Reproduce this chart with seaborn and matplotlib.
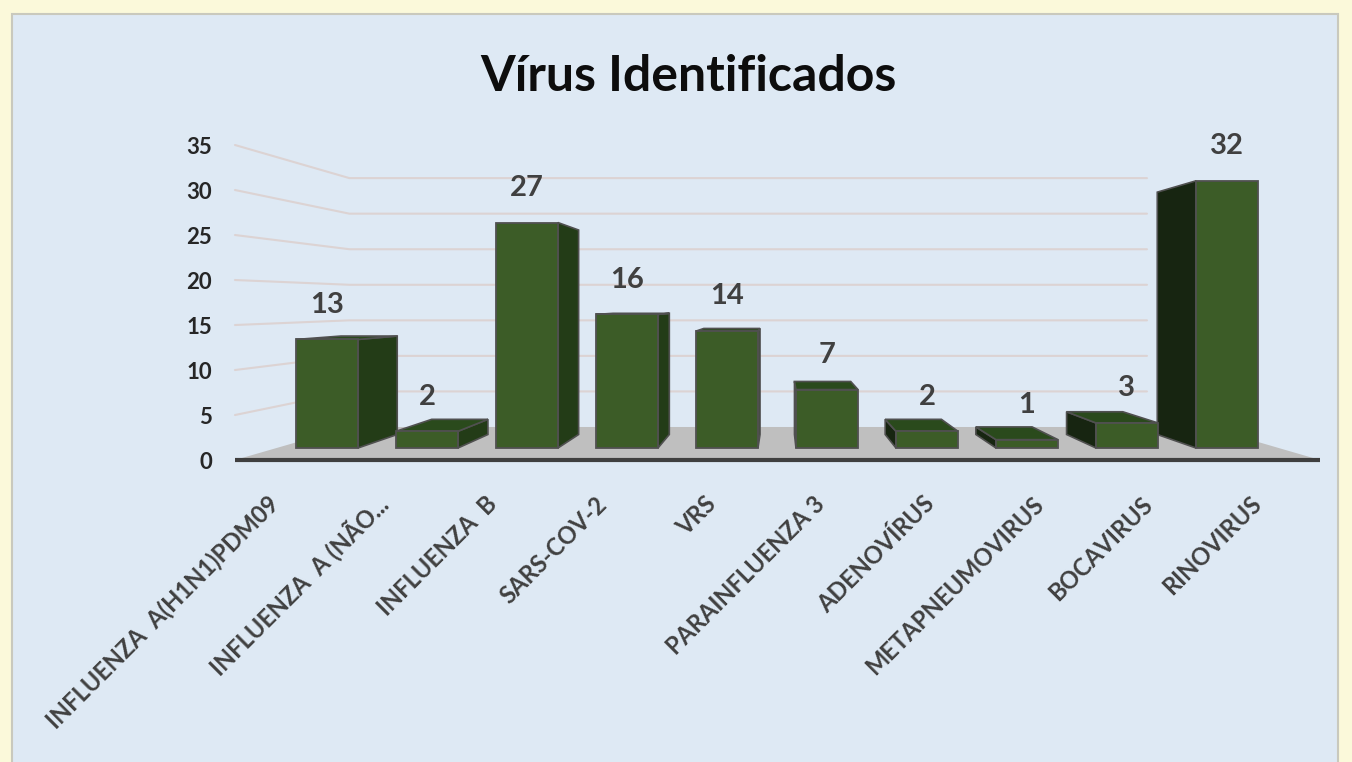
import pandas as pd
import seaborn as sns
import matplotlib.pyplot as plt
from matplotlib.patches import Polygon, Rectangle

# data
virus = ["INFLUENZA  A(H1N1)PDM09", "INFLUENZA  A (NÃO...", "INFLUENZA  B", "SARS-COV-2", "VRS",
         "PARAINFLUENZA 3", "ADENOVÍRUS", "METAPNEUMOVIRUS", "BOCAVIRUS", "RINOVIRUS"]
casos = [13, 2, 27, 16, 14, 7, 2, 1, 3, 32]
y_ticks = [0, 5, 10, 15, 20, 25, 30, 35]

df = pd.DataFrame({"virus": virus, "casos": casos})

sns.set_style("white")
plt.rcParams["font.family"] = ["Lato", "DejaVu Sans"]

fig = plt.figure(figsize=(13.52, 7.62), dpi=100)
fig.patch.set_facecolor("#fbf9da")
fig.patches.append(Rectangle((12 / 1352, -0.01), 1326 / 1352, 0.9916, transform=fig.transFigure,
                             facecolor="#dee9f4", edgecolor="#c9c9bd", linewidth=1.5, zorder=-5))

ax = fig.add_axes([0.1738, 0.3963, 0.8025, 0.4134])
ax.set_facecolor("none")

# 3d look: everything recedes towards a vanishing point
vp = (4.53, 17.4)
k_bar = 0.093      # depth of the bars
k_floor = 0.21     # depth of the floor
front = 1.078      # front plane (ticks) is a bit bigger than the bar plane
label_front = 1.092
x_left, x_right, y_floor = -0.92, 9.93, -1.44


def back(x, y, k):
    return (x + k * (vp[0] - x), y + k * (vp[1] - y))


tick_pos = [y_floor + front * t for t in y_ticks]

# floor
fl = back(x_left, y_floor, k_floor)
fr = back(x_right, y_floor, k_floor)
ax.add_patch(Polygon([(x_left, y_floor), (x_right, y_floor), fr, fl], closed=True,
                     facecolor="#bfbfbf", edgecolor="none", zorder=1))
ax.plot([x_left, x_right], [y_floor, y_floor], color="#3f3f3f", lw=3, zorder=1.5,
        solid_capstyle="butt", clip_on=False)

# grid lines (front -> back wall)
for t in tick_pos[1:]:
    bx, by = back(x_left, t, k_floor)
    ax.plot([x_left, bx, 8.2], [t, by, by], color="#dcd3d3", lw=1.5, zorder=0.5, clip_on=False)

sns.barplot(data=df, x="virus", y="casos", color="#3c5c27", width=0.62, saturation=1,
            edgecolor="#505050", linewidth=1.3, ax=ax, zorder=3)

for p, v in zip(ax.containers[0], casos):
    x0, x1, h = p.get_x(), p.get_x() + p.get_width(), p.get_height()
    if x1 < vp[0]:
        side = [(x1, 0), (x1, h), back(x1, h, k_bar), back(x1, 0, k_bar)]
        ax.add_patch(Polygon(side, closed=True, facecolor="#233c17", edgecolor="#505050",
                             lw=1.2, zorder=2.6))
    elif x0 > vp[0]:
        side = [(x0, 0), (x0, h), back(x0, h, k_bar), back(x0, 0, k_bar)]
        ax.add_patch(Polygon(side, closed=True, facecolor="#172511", edgecolor="#505050",
                             lw=1.2, zorder=2.6))
    if h < vp[1]:
        top = [(x0, h), (x1, h), back(x1, h, k_bar), back(x0, h, k_bar)]
        ax.add_patch(Polygon(top, closed=True, facecolor="#2a4a1c", edgecolor="#505050",
                             lw=1.2, zorder=2.7))
    ax.annotate(str(v), (p.get_x() + p.get_width() / 2, h), xytext=(0, 25),
                textcoords="offset points", ha="center", va="center",
                fontsize=21, fontweight="bold", color="#404040")

ax.set_xlim(x_left, x_right)
ax.set_ylim(y_floor, y_floor + front * 35)
ax.set_yticks(tick_pos)
ax.set_yticklabels([str(t) for t in y_ticks], fontsize=16, fontweight="bold", color="#262626")
ax.set_xticks([vp[0] + (i - vp[0]) * label_front - 0.1 for i in range(len(virus))])
ax.set_xticklabels(virus)
ax.tick_params(axis="y", length=0, pad=16.5)
ax.tick_params(axis="x", length=0, pad=29)
plt.setp(ax.get_xticklabels(), rotation=45, ha="right", va="center", rotation_mode="anchor",
         fontsize=17, fontweight="bold", color="#404040")
ax.set_xlabel("")
ax.set_ylabel("")
sns.despine(ax=ax, left=True, bottom=True)

fig.text(0.509, 0.9, "Vírus Identificados", ha="center", va="center", fontsize=36,
         fontweight="bold", color="#0d0d0d")

plt.savefig("out.png", dpi=100, facecolor=fig.get_facecolor())
